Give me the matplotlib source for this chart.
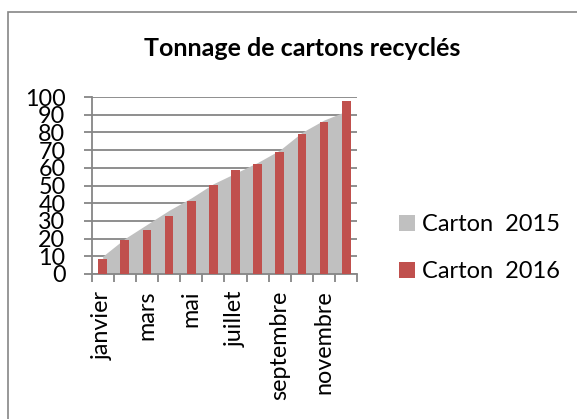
import matplotlib
matplotlib.use("Agg")
import matplotlib.pyplot as plt
from matplotlib.patches import Rectangle, Patch
import numpy as np

plt.rcParams['font.family'] = ['Lato', 'DejaVu Sans']

months = ["janvier", "février", "mars", "avril", "mai", "juin",
          "juillet", "août", "septembre", "octobre", "novembre", "décembre"]
carton_2015 = [10, 20, 28, 36, 43, 51, 57, 63, 70, 80, 87, 92]
carton_2016 = [8.5, 19, 25, 33, 41, 50.5, 58.5, 62, 69, 79, 86, 97.5]
series_names = ["Carton  2015", "Carton  2016"]
title = "Tonnage de cartons recyclés"

W, H = 577, 419
fig = plt.figure(figsize=(W / 100, H / 100), dpi=100)

# chart border
fig.patches.append(Rectangle((8 / W, -0.1), 1.2, (H - 12) / H + 0.1,
                             transform=fig.transFigure, fill=False,
                             edgecolor="#868686", linewidth=1.2))

ax = fig.add_axes([91.6 / W, (H - 274) / H, 265.7 / W, 177 / H])
x = np.arange(len(months))
ax.fill_between(x, carton_2015, 0, color="#C0C0C0", linewidth=0, zorder=2)
ax.bar(x, carton_2016, width=0.39, color="#C0504D", zorder=3)

ax.set_xlim(-0.5, len(months) - 0.5)
ax.set_ylim(0, 100)
ax.set_yticks(range(0, 101, 10))
ax.yaxis.grid(True, color="#868686", linewidth=1.3, zorder=1)
ax.set_axisbelow(True)

ax.set_xticks(x[::2])
ax.set_xticklabels(months[::2], rotation=90, va="top", ha="center")
ax.set_xticks(np.arange(-0.5, len(months), 1), minor=True)
ax.tick_params(axis="x", which="major", length=0, pad=12, labelsize=16.8)
ax.tick_params(axis="x", which="minor", length=5.8, width=1.3, color="#868686", direction="out")
ax.tick_params(axis="y", length=5.8, width=1.3, color="#868686", pad=13, labelsize=16.8)

for s in ["top", "right"]:
    ax.spines[s].set_visible(False)
for s in ["left", "bottom"]:
    ax.spines[s].set_color("#868686")
    ax.spines[s].set_linewidth(1.3)

fig.text(302 / W, 1 - 49 / H, title, ha="center", va="center",
         fontsize=18, fontweight="bold")

handles = [Patch(facecolor="#C0C0C0"), Patch(facecolor="#C0504D")]
fig.legend(handles, series_names, loc="center left",
           bbox_to_anchor=(378 / W, 1 - 248 / H), frameon=False,
           fontsize=17, handlelength=0.68, handleheight=0.68,
           handletextpad=0.3, labelspacing=1.1)

fig.savefig("out.png", dpi=100)
